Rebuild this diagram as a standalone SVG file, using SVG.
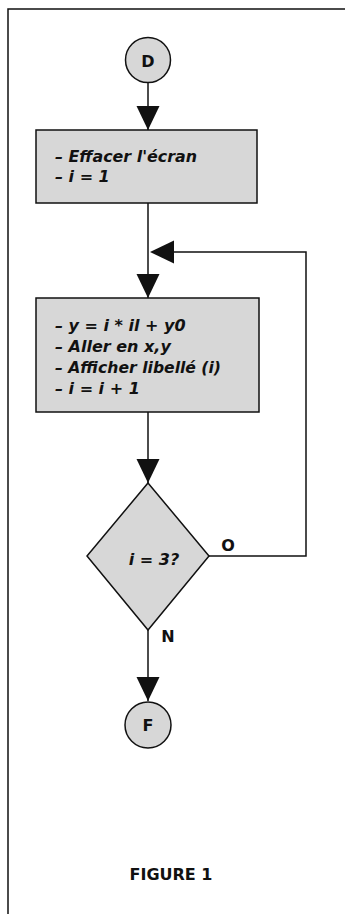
<svg xmlns="http://www.w3.org/2000/svg" xmlns:xlink="http://www.w3.org/1999/xlink" width="345" height="914" viewBox="0 0 345 914">
<style>
.shape{fill:#d7d7d7;stroke:#111;stroke-width:1.5}
.line{fill:none;stroke:#111;stroke-width:1.5}
.lbl{font-family:"DejaVu Sans",sans-serif;font-weight:bold;font-style:italic;font-size:16px;fill:#111}
.up{font-family:"DejaVu Sans",sans-serif;font-weight:bold;font-size:16px;fill:#111}
</style>
<defs>
<path id="ah" d="M-11.5,-24 L11.5,-24 L0,0 Z" fill="#111"/>
</defs>
<rect width="345" height="914" fill="#fff"/>
<path class="line" d="M8,914 V9 H345"/>
<g id="connectors">
<path class="line" d="M148,82 V130"/>
<path class="line" d="M148,203 V298"/>
<path class="line" d="M148,412 V483"/>
<path class="line" d="M148,630 V701"/>
<path class="line" d="M209,556 H306 V252 H170"/>
<use xlink:href="#ah" transform="translate(148,130)"/>
<use xlink:href="#ah" transform="translate(148,298)"/>
<use xlink:href="#ah" transform="translate(150,252) rotate(90)"/>
<use xlink:href="#ah" transform="translate(148,483)"/>
<use xlink:href="#ah" transform="translate(148,701)"/>
<text class="up" x="228" y="551" text-anchor="middle" font-size="17">O</text>
<text class="up" x="168" y="642" text-anchor="middle" font-size="17">N</text>
</g>
<g id="start">
<circle class="shape" cx="148" cy="60" r="22.5"/>
<text class="up" x="148" y="66.5" text-anchor="middle" font-size="17">D</text>
</g>
<g id="init">
<rect class="shape" x="36" y="130" width="221" height="73"/>
<text class="lbl" x="55" y="162" textLength="142" lengthAdjust="spacingAndGlyphs">– Effacer l'écran</text>
<text class="lbl" x="55" y="181.5">– i = 1</text>
</g>
<g id="body">
<rect class="shape" x="36" y="298" width="223" height="114"/>
<text class="lbl" x="55" y="331">– y = i * il + y0</text>
<text class="lbl" x="55" y="352">– Aller en x,y</text>
<text class="lbl" x="55" y="373" textLength="166" lengthAdjust="spacingAndGlyphs">– Afficher libellé (i)</text>
<text class="lbl" x="55" y="394">– i = i + 1</text>
</g>
<g id="test">
<path class="shape" d="M148,483 L209,556 L148,630 L87,556 Z"/>
<text class="lbl" x="154" y="565" text-anchor="middle" font-size="18">i = 3?</text>
</g>
<g id="end">
<circle class="shape" cx="148" cy="725" r="23"/>
<text class="up" x="148" y="731" text-anchor="middle" font-size="16">F</text>
</g>
<text class="up" x="171" y="880" text-anchor="middle" font-size="16">FIGURE 1</text>
</svg>
